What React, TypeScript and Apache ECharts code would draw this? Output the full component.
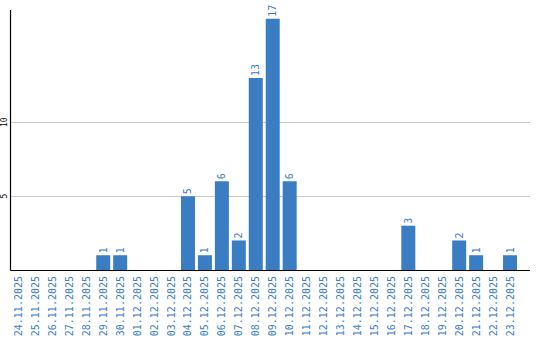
import React, { useEffect, useRef } from "react";
import * as echarts from "echarts";

const categories = [
  "24.11.2025", "25.11.2025", "26.11.2025", "27.11.2025", "28.11.2025",
  "29.11.2025", "30.11.2025", "01.12.2025", "02.12.2025", "03.12.2025",
  "04.12.2025", "05.12.2025", "06.12.2025", "07.12.2025", "08.12.2025",
  "09.12.2025", "10.12.2025", "11.12.2025", "12.12.2025", "13.12.2025",
  "14.12.2025", "15.12.2025", "16.12.2025", "17.12.2025", "18.12.2025",
  "19.12.2025", "20.12.2025", "21.12.2025", "22.12.2025", "23.12.2025",
];
const values = [
  0, 0, 0, 0, 0,
  1, 1, 0, 0, 0,
  5, 1, 6, 2, 13,
  17, 6, 0, 0, 0,
  0, 0, 0, 3, 0,
  0, 2, 1, 0, 1,
];
const yTicks = [5, 10];

const BLUE = "#3b7dc3";
const MONO = "'DejaVu Sans Mono', monospace";

export default function App() {
  const ref = useRef<HTMLDivElement>(null);
  useEffect(() => {
    if (!ref.current) return;
    const chart = echarts.init(ref.current, undefined, { renderer: "svg" });
    chart.setOption({
      animation: false,
      grid: { left: 8.5, right: 21.5, top: 10, bottom: 70 },
      xAxis: {
        type: "category",
        data: categories,
        axisLine: { show: false },
        axisTick: { show: false },
        axisLabel: {
          rotate: 90,
          interval: 0,
          color: BLUE,
          fontFamily: MONO,
          fontSize: 10,
          margin: 6,
        },
      },
      yAxis: {
        type: "value",
        min: 0,
        max: 17.6,
        interval: 5,
        splitLine: { show: false },
        axisLine: { show: false },
        axisTick: { show: false },
        axisLabel: {
          rotate: 90,
          fontSize: 8,
          fontFamily: MONO,
          color: "#000",
          margin: 2,
          formatter: (v: number) => (yTicks.includes(v) ? String(v) : ""),
        },
      },
      series: [
        {
          type: "bar",
          data: values.map((v) => (v === 0 ? null : v)),
          barWidth: 14,
          itemStyle: { color: BLUE },
          label: {
            show: true,
            position: "top",
            rotate: 90,
            align: "left",
            verticalAlign: "middle",
            distance: 2,
            color: BLUE,
            fontFamily: MONO,
            fontSize: 10,
          },
        },
      ],
    });
    const x0 = 10.5;
    const x1 = 530;
    const yBase = chart.convertToPixel({ yAxisIndex: 0 }, 0) as number;
    const yTop = 10;
    const gridLines = yTicks.map((t) => {
      const y = Math.round(chart.convertToPixel({ yAxisIndex: 0 }, t) as number) + 0.5;
      return {
        type: "line",
        shape: { x1: x0, y1: y, x2: x1, y2: y },
        style: { stroke: "#c8c8c8", lineWidth: 1 },
        z: 0,
      };
    });
    const yb = Math.round(yBase) + 0.5;
    chart.setOption({
      graphic: [
        ...gridLines,
        {
          type: "line",
          shape: { x1: x0, y1: yTop, x2: x0, y2: yb },
          style: { stroke: "#000", lineWidth: 1.2 },
          z: 10,
        },
        {
          type: "line",
          shape: { x1: x0, y1: yb, x2: x1, y2: yb },
          style: { stroke: "#000", lineWidth: 1.2 },
          z: 10,
        },
      ],
    });
    return () => chart.dispose();
  }, []);
  return <div ref={ref} style={{ width: 540, height: 340, position: "absolute", left: 0, top: 0 }} />;
}
